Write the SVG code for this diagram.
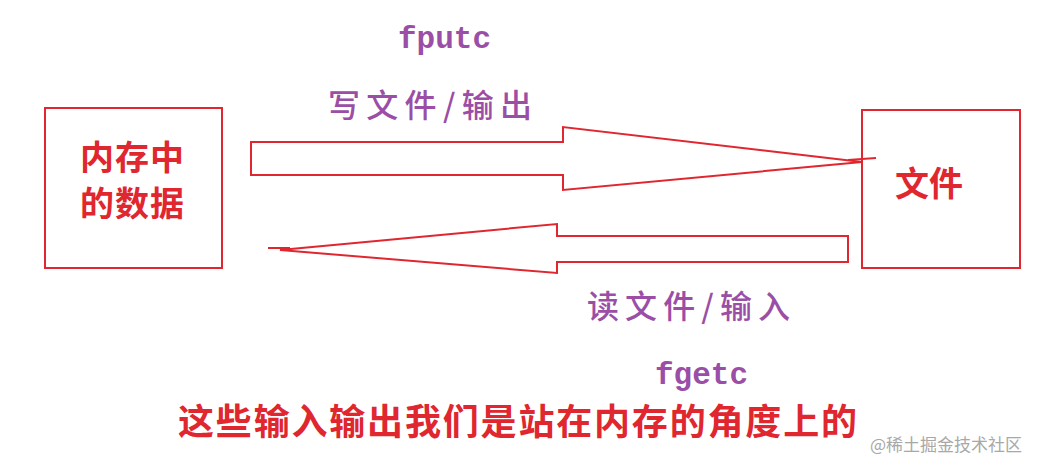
<svg xmlns="http://www.w3.org/2000/svg" width="1048" height="470" viewBox="0 0 1048 470">
<style>
.box{fill:none;stroke:#e0262e;stroke-width:2}
.arr{fill:none;stroke:#e0262e;stroke-width:2}
.red{fill:#e0262e;font-family:"Noto Sans CJK SC",sans-serif;font-weight:bold}
.pur{fill:#9a4ea6;font-family:"Noto Sans CJK SC",sans-serif;font-weight:500}
.mono{fill:#9a4ea6;font-family:"Liberation Mono",monospace;font-weight:bold}
</style>
<rect width="1048" height="470" fill="#fff"/>
<g id="memory">
<rect class="box" x="45" y="108" width="177" height="160"/>
<text class="red" x="80" y="170" font-size="34" textLength="104" lengthAdjust="spacing">内存中</text>
<text class="red" x="80" y="216" font-size="34" textLength="104" lengthAdjust="spacing">的数据</text>
</g>
<g id="file">
<rect class="box" x="862" y="110" width="158" height="158"/>
<text class="red" x="895" y="196" font-size="34" textLength="68" lengthAdjust="spacing">文件</text>
</g>
<g id="connectors">
<path class="arr" d="M563,142 H251 V175 H563 V190 L862,162 L563,127 Z"/>
<line class="arr" x1="848" y1="160" x2="876" y2="158"/>
<path class="arr" d="M557,236 H848 V262 H557 V273 L280,250 L557,224 Z"/>
<line class="arr" x1="268" y1="248" x2="290" y2="248"/>
</g>
<g id="labels">
<text class="mono" x="398" y="48" font-size="31">fputc</text>
<text class="pur" x="328" y="117" font-size="32" textLength="204" lengthAdjust="spacing">写文件/输出</text>
<text class="pur" x="587" y="318" font-size="32" textLength="203" lengthAdjust="spacing">读文件/输入</text>
<text class="mono" x="655" y="384" font-size="31">fgetc</text>
<text class="red" x="178" y="435" font-size="36" textLength="679" lengthAdjust="spacing">这些输入输出我们是站在内存的角度上的</text>
<text x="870" y="451" font-size="17" fill="#a8a8a8" font-family="Noto Sans CJK SC,sans-serif">@稀土掘金技术社区</text>
</g>
</svg>
